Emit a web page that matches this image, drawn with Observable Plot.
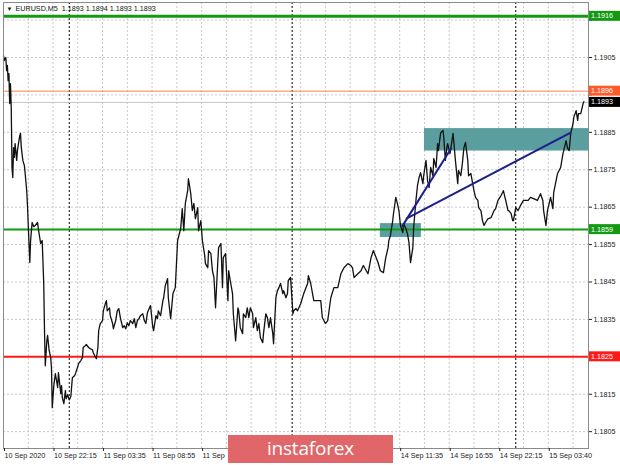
<!DOCTYPE html>
<html><head><meta charset="utf-8">
<script src="https://cdn.jsdelivr.net/npm/d3@7"></script>
<script src="https://cdn.jsdelivr.net/npm/@observablehq/plot@0.6"></script>
<style>
body{margin:0;background:#fff;}
#wrap{position:relative;width:620px;height:465px;overflow:hidden;background:#fff;}
#logo{position:absolute;left:228px;top:435px;width:165px;height:28px;background:#e0666a;color:#fff;font-family:"Open Sans",sans-serif;font-size:19px;line-height:27px;text-align:center;letter-spacing:-0.2px;}
</style></head><body><div id="wrap"><div id="logo">instaforex</div></div>
<script>
const symbol = "EURUSD,M5";
const lastQuote = ["1.1893", "1.1894", "1.1893", "1.1893"];

// [bar index (M5 bars since 10 Sep 16:55), close price]
const priceSeries = [
[0,1.19055],[1,1.19042],[3,1.19050],[4,1.19015],[5,1.19029],[6,1.18988],[7,1.19007],[8,1.18927],[9,1.18980],[10,1.18916],[11,1.18756],[12,1.18729],
[13,1.18809],[14,1.18783],[15,1.18820],[17,1.18775],[18,1.18801],[21,1.18841],[22,1.18847],[23,1.18809],[25,1.18775],[27,1.18761],[28,1.18740],[30,1.18694],
[31,1.18654],[32,1.18601],[34,1.18502],[35,1.18561],[37,1.18609],[39,1.18598],[41,1.18601],[44,1.18609],[45,1.18593],[48,1.18553],[50,1.18561],[52,1.18446],
[53,1.18320],[54,1.18226],[56,1.18293],[57,1.18307],[59,1.18267],[61,1.18248],[62,1.18221],[63,1.18114],[65,1.18173],[67,1.18205],[70,1.18168],[71,1.18208],
[74,1.18152],[75,1.18173],[76,1.18141],[78,1.18125],[80,1.18160],[81,1.18138],[83,1.18149],[84,1.18141],[85,1.18135],[87,1.18144],[89,1.18194],[92,1.18200],
[93,1.18205],[96,1.18224],[97,1.18232],[100,1.18240],[102,1.18248],[103,1.18275],[106,1.18280],[107,1.18283],[110,1.18275],[112,1.18272],[115,1.18269],[116,1.18261],
[119,1.18248],[120,1.18245],[122,1.18275],[123,1.18320],[125,1.18339],[128,1.18347],[129,1.18373],[132,1.18395],[133,1.18400],[134,1.18373],[137,1.18381],[138,1.18360],
[141,1.18339],[142,1.18325],[145,1.18347],[147,1.18373],[149,1.18379],[151,1.18355],[154,1.18328],[156,1.18333],[158,1.18325],[160,1.18341],[162,1.18333],[164,1.18347],
[167,1.18339],[169,1.18352],[171,1.18328],[173,1.18347],[175,1.18352],[177,1.18360],[180,1.18365],[182,1.18347],[184,1.18339],[186,1.18368],[187,1.18373],[190,1.18387],
[193,1.18328],[194,1.18320],[197,1.18360],[199,1.18352],[200,1.18373],[203,1.18360],[206,1.18400],[207,1.18408],[209,1.18440],[212,1.18459],[213,1.18408],[216,1.18352],
[219,1.18419],[222,1.18435],[225,1.18561],[226,1.18569],[229,1.18593],[231,1.18646],[233,1.18587],[235,1.18660],[238,1.18694],[239,1.18726],[242,1.18686],[244,1.18641],
[246,1.18660],[248,1.18619],[251,1.18649],[252,1.18587],[255,1.18614],[257,1.18561],[260,1.18521],[261,1.18499],[264,1.18488],[265,1.18534],[268,1.18526],[270,1.18480],
[272,1.18462],[274,1.18381],[277,1.18507],[278,1.18542],[281,1.18553],[283,1.18435],[284,1.18515],[287,1.18526],[290,1.18400],[291,1.18480],[293,1.18454],[296,1.18419],
[297,1.18365],[300,1.18293],[303,1.18381],[304,1.18373],[306,1.18328],[309,1.18312],[310,1.18365],[313,1.18355],[315,1.18381],[317,1.18355],[319,1.18381],[322,1.18365],
[323,1.18328],[326,1.18355],[328,1.18320],[330,1.18339],[332,1.18301],[335,1.18288],[336,1.18312],[339,1.18365],[341,1.18355],[343,1.18328],[345,1.18355],[348,1.18312],
[349,1.18285],[352,1.18408],[354,1.18427],[356,1.18435],[358,1.18446],[361,1.18419],[362,1.18427],[365,1.18408],[367,1.18419],[368,1.18454],[371,1.18462],[374,1.18365],
[375,1.18373],[378,1.18379],[380,1.18373],[384,1.18392],[388,1.18419],[393,1.18446],[394,1.18467],[397,1.18446],[401,1.18400],[406,1.18400],[410,1.18400],[412,1.18355],
[416,1.18339],[419,1.18347],[423,1.18408],[427,1.18435],[432,1.18435],[436,1.18472],[440,1.18488],[445,1.18499],[449,1.18494],[451,1.18488],[453,1.18462],[458,1.18472],
[462,1.18480],[465,1.18494],[471,1.18472],[475,1.18515],[478,1.18534],[484,1.18502],[487,1.18480],[491,1.18475],[494,1.18515],[497,1.18542],[498,1.18561],[500,1.18574],
[503,1.18614],[504,1.18633],[507,1.18676],[509,1.18660],[511,1.18641],[513,1.18601],[516,1.18582],[517,1.18606],[520,1.18593],[522,1.18579],[524,1.18555],[526,1.18502],
[529,1.18542],[530,1.18595],[533,1.18668],[535,1.18708],[537,1.18729],[539,1.18742],[542,1.18713],[543,1.18734],[546,1.18775],[548,1.18721],[550,1.18702],[552,1.18756],
[555,1.18734],[556,1.18780],[559,1.18756],[561,1.18820],[562,1.18801],[565,1.18849],[568,1.18855],[569,1.18836],[571,1.18775],[573,1.18809],[574,1.18820],[577,1.18793],
[578,1.18807],[581,1.18847],[582,1.18823],[584,1.18775],[587,1.18713],[588,1.18748],[591,1.18734],[593,1.18767],[595,1.18809],[597,1.18823],[600,1.18775],[601,1.18734],
[604,1.18740],[606,1.18716],[608,1.18694],[610,1.18676],[613,1.18668],[614,1.18649],[617,1.18641],[619,1.18614],[621,1.18601],[623,1.18609],[626,1.18619],[630,1.18622],
[634,1.18641],[636,1.18646],[639,1.18668],[643,1.18681],[646,1.18694],[649,1.18668],[652,1.18641],[653,1.18641],[656,1.18633],[658,1.18614],[659,1.18614],[662,1.18649],
[665,1.18641],[668,1.18654],[672,1.18668],[678,1.18668],[681,1.18676],[685,1.18673],[690,1.18668],[694,1.18686],[697,1.18668],[698,1.18641],[701,1.18601],[703,1.18641],
[707,1.18676],[710,1.18646],[711,1.18689],[716,1.18740],[720,1.18756],[723,1.18793],[724,1.18801],[727,1.18828],[729,1.18807],[731,1.18801],[733,1.18847],[736,1.18873],
[737,1.18890],[740,1.18908],[742,1.18882],[743,1.18900],[746,1.18900],[749,1.18927],[750,1.18932]
];

// time-axis ticks; only the visible part of labels under the watermark is kept
const xTickBars = [0, 64, 128, 192, 256, 320, 384, 448, 512, 576, 640, 704];
const xTickLabels = ["10 Sep 2020", "10 Sep 22:15", "11 Sep 03:35", "11 Sep 08:55", "11 Sep", "",
  "", "", "14 Sep 11:35", "14 Sep 16:55", "14 Sep 22:15", "15 Sep 03:40"];
const yTicks = [1.1805, 1.1815, 1.1825, 1.1835, 1.1845, 1.1855, 1.1865, 1.1875, 1.1885, 1.1895, 1.1905, 1.1915];
const daySeparators = [85, 373, 662];

const levelPrices = [1.1916, 1.1896, 1.1893, 1.1859, 1.1825];
const levelLineColors = ["#139a13", "#ff8050", "#c4c4c4", "#139a13", "#ff1a1a"];
const levelBoxColors = ["#139a13", "#ff5a2a", "#000000", "#139a13", "#ff1a1a"];
const levelWidths = [3, 1, 1, 2, 2];

const zoneBars = [[544, 756], [487, 540]];
const zonePrices = [[1.1880, 1.1886], [1.18569, 1.18606]];
const trendStart = [[515, 1.18598], [520, 1.18619]];
const trendEnd = [[579, 1.18809], [733, 1.18849]];

const series = priceSeries.map(([bar, close]) => ({bar, close}));
const zones = zoneBars.map((b, i) => ({x1: b[0], x2: b[1], y1: zonePrices[i][0], y2: zonePrices[i][1]}));
const trends = trendStart.map((s, i) => ({x1: s[0], y1: s[1], x2: trendEnd[i][0], y2: trendEnd[i][1]}));
const gridBars = d3.range(0, 757, 32);

const font = "Tahoma, 'Liberation Sans', Arial, sans-serif";
const coveredByBox = d => levelPrices.some(p => Math.abs(p - d) < 0.00016);

const plot = Plot.plot({
  width: 620, height: 465,
  marginTop: 2, marginRight: 32, marginBottom: 17, marginLeft: 3,
  x: {domain: [0, 756]},
  y: {domain: [1.18005, 1.19197]},
  style: {fontFamily: font, fontSize: "7.2px", background: "#fff", color: "#222"},
  marks: [
    Plot.gridX(gridBars, {stroke: "#c8c8c8", strokeOpacity: 1, strokeDasharray: "2,2"}),
    Plot.gridY(yTicks, {stroke: "#c8c8c8", strokeOpacity: 1, strokeDasharray: "2,2"}),
    Plot.ruleX(daySeparators, {stroke: "#000", strokeDasharray: "2,2", strokeWidth: 1}),
    Plot.rect(zones, {x1: "x1", x2: "x2", y1: "y1", y2: "y2", fill: "#5a9e9f"}),
    ...levelPrices.map((p, i) => Plot.ruleY([p], {stroke: levelLineColors[i], strokeWidth: levelWidths[i]})),
    Plot.line(series, {x: "bar", y: "close", stroke: "#111", strokeWidth: 1.3}),
    Plot.link(trends, {x1: "x1", y1: "y1", x2: "x2", y2: "y2", stroke: "#1e1e8c", strokeWidth: 2}),
    Plot.frame({stroke: "#8a8a8a"}),
    Plot.axisY(yTicks, {anchor: "right", tickFormat: d => coveredByBox(d) ? "" : d.toFixed(4), tickSize: 3, tickPadding: 2, label: null, fill: "#222"}),
    Plot.axisX(xTickBars, {anchor: "bottom", tickFormat: d => xTickLabels[xTickBars.indexOf(d)], textAnchor: "start", tickSize: 3, tickPadding: 1, dx: 1, label: null, fill: "#222"}),
    Plot.text(["\u25BC"], {frameAnchor: "top-left", dx: 3, dy: 4, fontSize: 6, fill: "#111", text: d => d}),
    Plot.text([symbol + "  " + lastQuote.join(" ")], {frameAnchor: "top-left", dx: 12, dy: 3, fill: "#111", text: d => d})
  ]
});

// value boxes on the price scale, positioned with the plot's own y scale
const yScale = plot.scale("y");
const svg = d3.select(plot);
const g = svg.append("g").attr("font-family", font).attr("font-size", "7.2px").attr("text-anchor", "start");
levelPrices.forEach((p, i) => {
  const yy = yScale.apply(p);
  g.append("rect").attr("x", 589).attr("y", yy - 5).attr("width", 31).attr("height", 10).attr("fill", levelBoxColors[i]);
  g.append("text").attr("x", 591).attr("y", yy).attr("dy", "0.35em").attr("text-anchor", "start").attr("fill", "#fff").text(p.toFixed(4));
});

document.getElementById("wrap").prepend(plot);
</script>
</body></html>
